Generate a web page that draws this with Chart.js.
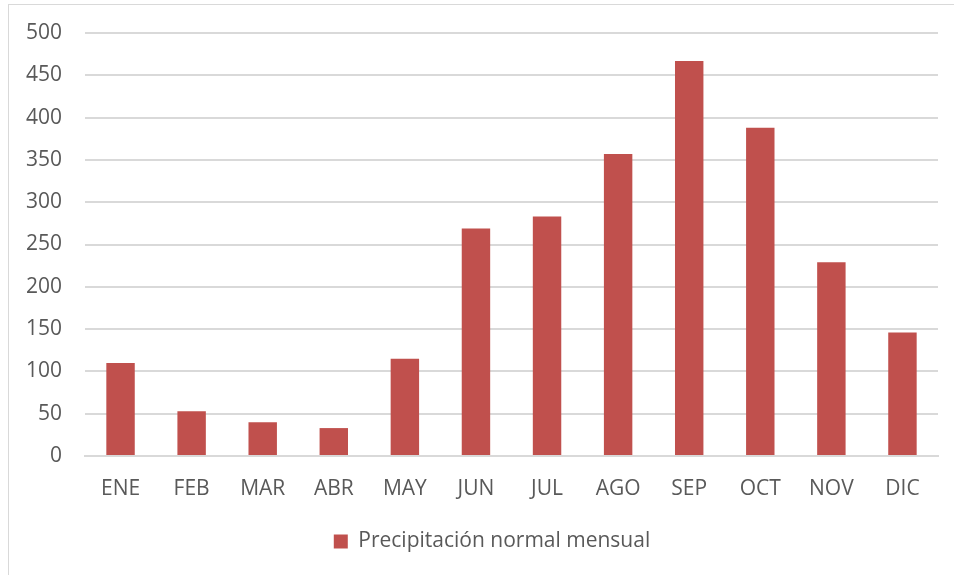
<!DOCTYPE html>
<html>
<head>
<meta charset="utf-8">
<script src="https://cdn.jsdelivr.net/npm/chart.js@4"></script>
<style>
  html, body { margin: 0; padding: 0; background: #fff; overflow: hidden; }
  #frame { position: absolute; left: 8px; top: 4px; width: 1000px; height: 700px; border: 1px solid #d9d9d9; box-sizing: border-box; }
  #wrap { position: absolute; left: 0; top: 0; width: 954px; height: 575px; }
</style>
</head>
<body>
<div id="frame"></div>
<div id="wrap"><canvas id="chart"></canvas></div>
<script>
// datos del gráfico
const months = ['ENE', 'FEB', 'MAR', 'ABR', 'MAY', 'JUN', 'JUL', 'AGO', 'SEP', 'OCT', 'NOV', 'DIC'];
const rainfall = [110, 53, 40, 33, 115, 269, 283, 357, 467, 388, 229, 146];
const seriesName = 'Precipitación normal mensual';
const yTicksMax = 500;
const yTicksStep = 50;

const textColor = '#595959';
const gridColor = '#d9d9d9';
const barColor = '#c0504d';
const font = { family: '"Open Sans", "Liberation Sans", sans-serif', size: 21 };

// mueve la leyenda un poco a la derecha (centrada bajo el área del gráfico)
const legendShift = {
  id: 'legendShift',
  afterLayout: function(chart) {
    chart.legend.left += 23;
    chart.legend.right += 23;
  }
};

var ctx = document.getElementById('chart').getContext('2d');
var chart = new Chart(ctx, {
  type: 'bar',
  data: {
    labels: months,
    datasets: [{
      label: seriesName,
      data: rainfall,
      backgroundColor: barColor,
      borderWidth: 0,
      barPercentage: 0.4,
      categoryPercentage: 1
    }]
  },
  options: {
    responsive: true,
    maintainAspectRatio: false,
    animation: false,
    layout: { padding: { left: 0, right: 16, top: 33, bottom: 13 } },
    plugins: {
      legend: {
        position: 'bottom',
        labels: { color: textColor, font: font, boxWidth: 14, boxHeight: 14, padding: 10 }
      },
      tooltip: { enabled: false }
    },
    scales: {
      x: {
        grid: { display: false, drawTicks: false },
        border: { color: gridColor, width: 2 },
        ticks: { color: textColor, font: font, padding: 20 },
        afterFit: function(scale) { scale.height = 65; }
      },
      y: {
        min: 0,
        max: yTicksMax,
        grid: { color: gridColor, lineWidth: 2, drawTicks: false },
        border: { display: false },
        ticks: {
          stepSize: yTicksStep,
          color: textColor,
          font: { family: font.family, size: font.size, lineHeight: 0.95 },
          padding: 23
        },
        afterFit: function(scale) { scale.width = 85; }
      }
    }
  },
  plugins: [legendShift]
});
</script>
</body>
</html>
